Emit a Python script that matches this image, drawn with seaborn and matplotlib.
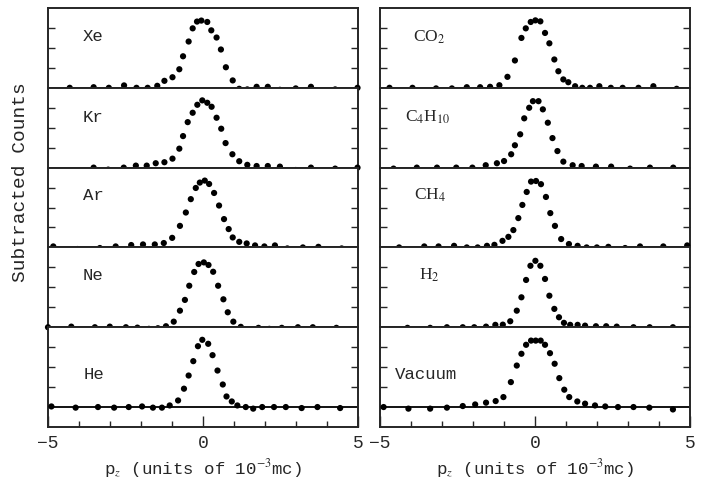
import matplotlib
matplotlib.use("Agg")
import matplotlib.pyplot as plt
import seaborn as sns
import pandas as pd
from matplotlib.ticker import MultipleLocator, NullFormatter

# Subtracted counts vs p_z (y in tick units, baseline = 0)
xe_x = [-4.30, -3.53, -3.04, -2.55, -2.15, -1.79, -1.48, -1.25, -0.99, -0.77, -0.65, -0.47, -0.34, -0.20,
        -0.06, 0.13, 0.26, 0.43, 0.57, 0.73, 0.95, 1.16, 1.42, 1.72, 2.08, 2.47, 2.98, 3.47, 4.25, 4.97]
xe_y = [0.0, 0.03, 0.0, 0.12, 0.0, 0.0, 0.10, 0.35, 0.53, 0.93, 1.58, 2.32, 2.98, 3.32,
        3.37, 3.30, 2.88, 2.52, 1.92, 1.03, 0.37, -0.05, -0.08, 0.05, 0.05, -0.10, -0.03, 0.05, -0.08, 0.0]

kr_x = [-4.30, -3.53, -3.06, -2.56, -2.17, -1.82, -1.53, -1.25, -0.99, -0.77, -0.65, -0.50, -0.34, -0.19,
        -0.03, 0.13, 0.27, 0.43, 0.58, 0.72, 0.94, 1.16, 1.42, 1.72, 2.08, 2.47, 2.98, 3.47, 4.25, 4.97]
kr_y = [-0.13, 0.0, -0.10, 0.0, 0.10, 0.10, 0.22, 0.27, 0.45, 0.95, 1.58, 2.28, 2.75, 3.15,
        3.37, 3.25, 3.05, 2.50, 1.95, 1.23, 0.67, 0.32, 0.14, 0.08, 0.08, 0.05, -0.12, 0.0, -0.05, 0.0]

ar_x = [-4.83, -4.05, -3.33, -2.82, -2.32, -1.94, -1.56, -1.27, -1.00, -0.75, -0.56, -0.40, -0.24, -0.11,
        0.05, 0.19, 0.35, 0.51, 0.67, 0.82, 0.95, 1.16, 1.40, 1.67, 1.97, 2.31, 2.71, 3.21, 3.71, 4.46]
ar_y = [0.05, -0.08, -0.03, 0.05, 0.12, 0.15, 0.15, 0.22, 0.48, 1.08, 1.75, 2.42, 2.98, 3.25,
        3.35, 3.18, 2.73, 2.10, 1.42, 0.92, 0.50, 0.28, 0.20, 0.10, 0.05, 0.10, -0.05, 0.0, 0.03, -0.05]

ne_x = [-5.00, -4.25, -3.49, -3.01, -2.49, -2.12, -1.75, -1.46, -1.20, -0.95, -0.75, -0.59, -0.45, -0.29,
        -0.15, 0.02, 0.17, 0.32, 0.48, 0.65, 0.79, 0.97, 1.21, 1.49, 1.78, 2.13, 2.53, 3.05, 3.53, 4.29]
ne_y = [0.0, 0.03, 0.0, 0.03, 0.0, -0.02, -0.08, -0.05, 0.05, 0.28, 0.83, 1.37, 2.08, 2.77,
        3.17, 3.25, 3.12, 2.78, 2.08, 1.40, 0.75, 0.28, 0.02, -0.10, -0.03, -0.08, -0.03, 0.0, 0.0, -0.03]

he_x = [-4.89, -4.11, -3.39, -2.87, -2.40, -1.97, -1.62, -1.33, -1.08, -0.81, -0.62, -0.47, -0.32, -0.17,
        -0.03, 0.16, 0.30, 0.46, 0.63, 0.75, 0.92, 1.10, 1.37, 1.61, 1.90, 2.28, 2.66, 3.17, 3.68, 4.41]
he_y = [0.03, -0.03, 0.0, -0.03, 0.0, 0.03, -0.03, -0.03, 0.08, 0.33, 0.92, 1.58, 2.30, 3.05,
        3.37, 3.17, 2.60, 1.83, 1.13, 0.53, 0.28, 0.08, 0.0, -0.08, 0.0, 0.0, 0.0, -0.05, 0.0, -0.05]

co2_x = [-4.68, -3.94, -3.18, -2.67, -2.19, -1.76, -1.44, -1.14, -0.88, -0.64, -0.43, -0.29, -0.13, 0.02,
         0.18, 0.33, 0.47, 0.63, 0.76, 0.92, 1.08, 1.30, 1.53, 1.78, 2.08, 2.45, 2.83, 3.34, 3.82, 4.57]
co2_y = [0.0, 0.0, -0.03, -0.03, 0.03, 0.03, 0.05, 0.13, 0.55, 1.37, 2.50, 2.98, 3.30, 3.38,
         3.33, 2.75, 2.23, 1.42, 0.83, 0.42, 0.28, 0.08, 0.0, 0.0, 0.08, 0.0, 0.0, 0.0, 0.08, -0.05]

c4h10_x = [-4.55, -3.80, -3.15, -2.53, -2.01, -1.58, -1.22, -0.99, -0.76, -0.64, -0.47, -0.34, -0.18, -0.06,
           0.12, 0.26, 0.42, 0.57, 0.73, 0.92, 1.22, 1.51, 1.97, 2.46, 3.07, 3.71, 4.46]
c4h10_y = [-0.05, 0.0, 0.0, 0.0, 0.0, 0.12, 0.22, 0.33, 0.67, 1.12, 1.67, 2.47, 3.00, 3.33,
           3.33, 2.92, 2.25, 1.48, 0.83, 0.30, 0.12, 0.08, 0.05, 0.05, -0.05, 0.0, 0.0]

ch4_x = [-4.37, -3.56, -3.10, -2.60, -2.19, -1.84, -1.54, -1.30, -1.04, -0.85, -0.69, -0.53, -0.40, -0.26,
         -0.12, 0.04, 0.20, 0.36, 0.50, 0.65, 0.85, 1.10, 1.38, 1.67, 2.00, 2.37, 2.91, 3.39, 4.14, 4.91]
ch4_y = [0.0, 0.05, 0.05, 0.08, 0.0, 0.0, 0.08, 0.13, 0.33, 0.53, 0.87, 1.47, 2.13, 2.78,
         3.30, 3.33, 3.17, 2.53, 1.72, 1.08, 0.42, 0.17, 0.08, 0.0, 0.0, 0.03, -0.03, 0.05, 0.05, 0.10]

h2_x = [-4.10, -3.37, -2.83, -2.32, -1.95, -1.57, -1.27, -1.03, -0.79, -0.58, -0.43, -0.28, -0.14, 0.02,
        0.18, 0.33, 0.47, 0.63, 0.78, 0.94, 1.14, 1.38, 1.62, 1.97, 2.30, 2.64, 3.18, 3.70, 4.45]
h2_y = [-0.03, -0.03, 0.0, 0.0, 0.0, 0.03, 0.12, 0.13, 0.30, 0.83, 1.50, 2.37, 3.08, 3.33,
        3.08, 2.42, 1.58, 0.92, 0.50, 0.22, 0.12, 0.12, 0.08, 0.05, 0.05, 0.03, 0.0, 0.0, 0.0]

vac_x = [-4.87, -4.07, -3.37, -2.83, -2.32, -1.92, -1.57, -1.26, -1.01, -0.77, -0.58, -0.43, -0.28, -0.12,
         0.03, 0.19, 0.33, 0.49, 0.64, 0.79, 0.95, 1.11, 1.37, 1.62, 1.94, 2.27, 2.68, 3.18, 3.69, 4.45]
vac_y = [0.0, -0.08, -0.08, -0.03, 0.05, 0.13, 0.22, 0.30, 0.50, 1.25, 2.08, 2.67, 3.12, 3.33,
         3.33, 3.33, 3.12, 2.70, 2.17, 1.45, 0.87, 0.50, 0.28, 0.17, 0.08, 0.03, 0.0, 0.0, -0.03, -0.12]

left_names = ["Xe", "Kr", "Ar", "Ne", "He"]
right_names = ["CO$_2$", "C$_4$H$_{10}$", "CH$_4$", "H$_2$", "Vacuum"]
left_data = [(xe_x, xe_y), (kr_x, kr_y), (ar_x, ar_y), (ne_x, ne_y), (he_x, he_y)]
right_data = [(co2_x, co2_y), (c4h10_x, c4h10_y), (ch4_x, ch4_y), (h2_x, h2_y), (vac_x, vac_y)]

# label placement (data coords)
left_lab_x = [-3.88, -3.88, -3.88, -3.88, -3.85]
right_lab_x = [-3.92, -4.18, -3.89, -3.72, -4.50]
lab_y = [2.55, 2.52, 2.6, 2.6, 1.62]

sns.set_style("ticks")
mono = ["Liberation Mono", "DejaVu Sans Mono"]
plt.rcParams["font.family"] = mono
plt.rcParams["mathtext.fontset"] = "stix"

fig = plt.figure(figsize=(7.1, 4.86), dpi=100)
gs = fig.add_gridspec(5, 2, left=48/710, right=690/710, top=1-8/486, bottom=1-427/486,
                      wspace=0.068, hspace=0, height_ratios=[4, 4, 4, 4, 5])

for col, (names, data, lab_x) in enumerate([(left_names, left_data, left_lab_x),
                                            (right_names, right_data, right_lab_x)]):
    for row in range(5):
        ax = fig.add_subplot(gs[row, col])
        px, py = data[row]
        df = pd.DataFrame({"p": px, "c": py})
        sns.scatterplot(data=df, x="p", y="c", ax=ax, color="black", s=20,
                        edgecolor="none", clip_on=False, zorder=3)
        ax.axhline(0, color="black", lw=1.3, zorder=2)
        ax.set_xlim(-5, 5)
        ax.set_ylim(-1 if row == 4 else 0, 4)
        ax.set_xlabel("")
        ax.set_ylabel("")
        ax.set_yticks([1, 2, 3])
        ax.set_yticklabels([])
        ax.tick_params(axis="y", direction="in", left=True, right=True, length=5, width=1)
        for s in ax.spines.values():
            s.set_linewidth(1.4)
            s.set_visible(True)
        name = names[row]
        fam = mono if col == 0 or name == "Vacuum" else ["Liberation Serif", "DejaVu Serif"]
        ax.text(lab_x[row], lab_y[row], name, fontsize=12.5, va="center", ha="left", family=fam)
        if row < 4:
            ax.tick_params(axis="x", bottom=False, labelbottom=False)
        else:
            ax.set_xticks([-5, 0, 5])
            ax.set_xticklabels(["\u22125", "0", "5"])
            ax.xaxis.set_minor_locator(MultipleLocator(1))
            ax.xaxis.set_minor_formatter(NullFormatter())
            ax.tick_params(axis="x", which="major", direction="in", length=8, width=1,
                           labelsize=13, pad=6)
            ax.tick_params(axis="x", which="minor", direction="in", length=4, width=1)
            ax.set_xlabel("p$_z$ (units of 10$^{-3}$mc)", fontsize=12.5, labelpad=4)

fig.text(21/710, 1-182/486, "Subtracted Counts", rotation=90, fontsize=14,
         va="center", ha="center")

fig.savefig("out.png", dpi=100)
